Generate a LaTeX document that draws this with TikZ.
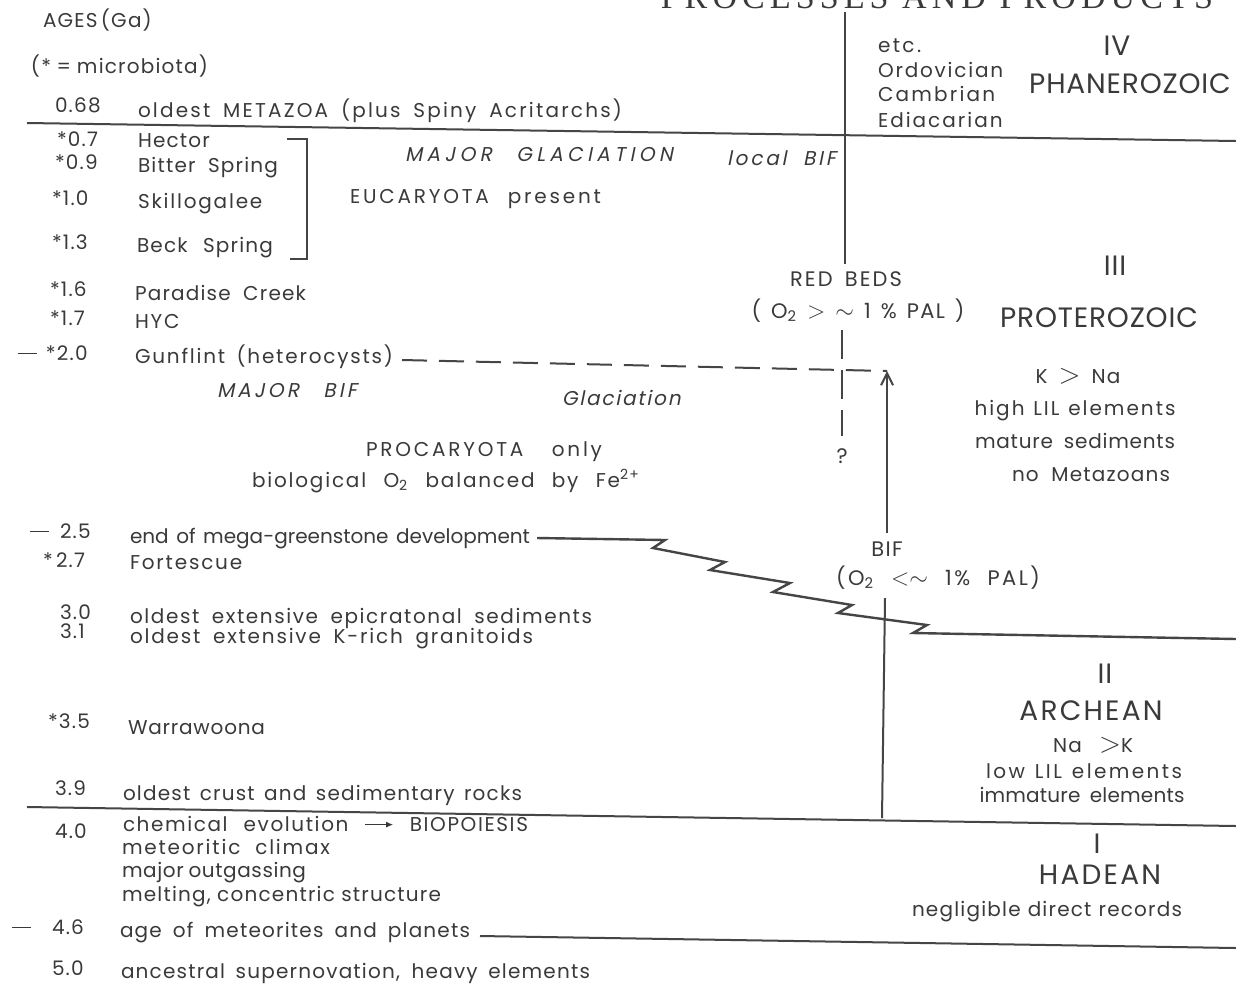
\documentclass[tikz,border=0pt]{standalone}
\usepackage{fontspec}
\setmainfont{Poppins}[LetterSpace=6]
\newfontfamily\slantfont{Poppins}[FakeSlant=0.2,LetterSpace=6]
\newfontfamily\headfont{Liberation Serif}[LetterSpace=15]
\usetikzlibrary{arrows.meta}
\definecolor{ink}{HTML}{3A3A3A}
\definecolor{linec}{HTML}{454545}
\newcommand\W[2]{\makebox[\dimexpr #1pt/2\relax][s]{#2}}
\newcommand\dashmark{\rule[0.3em]{9.5pt}{0.6pt}}
\begin{document}
\begin{tikzpicture}[x=0.5pt,y=-0.5pt,
  every node/.style={inner sep=0pt,outer sep=0pt,text=ink},
  txt/.style={anchor=west,text height=0.72em,text depth=0.2em,font=\fontsize{10}{12}\selectfont},
  txtc/.style={txt,anchor=center},
  lsp/.style={font=\fontsize{10}{12}\selectfont\addfontfeature{LetterSpace=#1}},
  itxt/.style={txt,font=\fontsize{10}{12}\selectfont\slantfont},
  ilsp/.style={font=\fontsize{10}{12}\selectfont\slantfont\addfontfeature{LetterSpace=#1}},
  midtxt/.style={anchor=center,text height=0.72em,text depth=0.2em,font=\fontsize{10.5}{12}\selectfont},
  midlsp/.style={font=\fontsize{10.5}{12}\selectfont\addfontfeature{LetterSpace=#1}},
  bigtxt/.style={anchor=center,text height=0.72em,text depth=0.2em,font=\fontsize{14}{16}\selectfont\addfontfeature{LetterSpace=3}},
  rule/.style={draw=linec,line width=1pt},
  dashrule/.style={rule,dash pattern=on 12.5pt off 6pt},
  stemrule/.style={rule,dash pattern=on 14.5pt off 5.5pt},
  ]
\fill[white] (0,0) rectangle (1236,992);
\useasboundingbox (0,0) rectangle (1236,992);

% header (cut off at the top, as in the source)
\node[anchor=base east,font=\fontsize{17}{19}\headfont] (head) at (1213,8) {PROCESSES AND PRODUCTS};

% left column: ages and events
\node[txt] (ages) at (43,22) {AGES\,(Ga)};
\node[txt] (micro) at (31,68) {\W{177}{(* = microbiota)}};
\node[txt] (n068) at (55,107) {0.68};
\node[txt,lsp=11] (metazoa) at (138,112) {\W{484}{oldest METAZOA (plus Spiny Acritarchs)}};
\node[txt] (n07) at (57,141) {*0.7};
\node[txt] (hector) at (138,142) {Hector};
\node[txt] (n09) at (55,164) {*0.9};
\node[txt] (bitter) at (138,167) {\W{140}{Bitter Spring}};
\node[txt] (n10) at (52,200) {*1.0};
\node[txt,lsp=9] (skill) at (138,203) {Skillogalee};
\node[txt] (n13) at (52,244) {*1.3};
\node[txt] (beck) at (137,247) {\W{136}{Beck Spring}};
\node[txt] (n16) at (50,291) {*1.6};
\node[txt] (paradise) at (135,295) {\W{171}{Paradise Creek}};
\node[txt] (n17) at (50,320) {*1.7};
\node[txt,lsp=9] (hyc) at (135,323) {HYC};
\node[txt] (dash20) at (18,355) {\dashmark};
\node[txt] (n20) at (46,355) {*2.0};
\node[txt,lsp=9] (gunflint) at (135,358) {\W{258}{Gunflint (heterocysts)}};
\node[txt] (dash25) at (30,533) {\dashmark};
\node[txt] (n25) at (60,533) {2.5};
\node[txt,lsp=0] (endmega) at (130,538) {\W{400}{end of mega-greenstone development}};
\node[txt] (n27) at (43,562) {*\,2.7};
\node[txt,lsp=9] (fortescue) at (130,564) {Fortescue};
\node[txt] (n30) at (60,614) {3.0};
\node[txt,lsp=8] (epicr) at (130,618) {\W{462}{oldest extensive epicratonal sediments}};
\node[txt] (n31) at (60,633) {3.1};
\node[txt,lsp=9] (krich) at (130,638) {\W{403}{oldest extensive K-rich granitoids}};
\node[txt] (n35) at (48,723) {*3.5};
\node[txt,lsp=4] (warra) at (128,729) {Warrawoona};
\node[txt] (n39) at (55,790) {3.9};
\node[txt] (crust) at (123,795) {\W{399}{oldest crust and sedimentary rocks}};
\node[txt] (n40) at (55,833) {4.0};
\node[txt,lsp=8] (chem) at (123,826) {\W{405}{chemical evolution \tikz[baseline=-0.6ex]\draw[draw=ink,line width=0.6pt,-{Latex[length=3.5pt,width=3pt]}] (0pt,0pt) -- (14pt,0pt); BIOPOIESIS}};
\node[txt,lsp=9] (meteo) at (122,849) {\W{208}{meteoritic climax}};
\node[txt,lsp=3] (outgas) at (122,872) {\W{184}{major outgassing}};
\node[txt] (melting) at (122,896) {\W{319}{melting, concentric structure}};
\node[txt] (dash46) at (12,929) {\dashmark};
\node[txt] (n46) at (52,929) {4.6};
\node[txt] (ageof) at (120,932) {\W{350}{age of meteorites and planets}};
\node[txt] (n50) at (52,970) {5.0};
\node[txt] (ancestral) at (121,973) {\W{469}{ancestral supernovation, heavy elements}};

% middle texts
\node[itxt,ilsp=22] (majglac) at (405,156) {\W{268}{MAJOR GLACIATION}};
\node[itxt,ilsp=14] (localbif) at (727,160) {\W{109}{local BIF}};
\node[txt,lsp=14] (eucar) at (350,198) {\W{251}{EUCARYOTA present}};
\node[itxt,ilsp=16] (majbif) at (217,392) {\W{140}{MAJOR BIF}};
\node[itxt,ilsp=9] (glac) at (562,400) {Glaciation};
\node[txtc,lsp=14] (procar) at (484,451) {\W{236}{PROCARYOTA only}};
\node[txtc,lsp=9] (biolog) at (446,482) {\W{388}{biological O\textsubscript{2} balanced by Fe\textsuperscript{2+}}};
\node[midtxt,midlsp=10] (redbeds) at (846,281) {\W{112}{RED BEDS}};
\node[midtxt] (redpal) at (858,313) {\W{213}{( O\textsubscript{2} {\large$>$} {\large$\sim$} 1 \% PAL )}};
\node[midtxt] (qmark) at (842,458) {?};
\node[midtxt] (bif) at (887,551) {BIF};
\node[midtxt,midlsp=12] (bifpal) at (938,580) {\W{204}{(O\textsubscript{2} {\large$<$}{\large$\sim$} 1\% PAL)}};

% right column
\node[txt,lsp=12] (etc) at (878,47) {etc.};
\node[txt,lsp=9] (ordo) at (878,72) {Ordovician};
\node[txt,lsp=11] (camb) at (878,96) {Cambrian};
\node[txt,lsp=10] (edia) at (878,122) {Ediacarian};
\node[bigtxt] (iv) at (1117,50) {IV};
\node[bigtxt] (phan) at (1130,88) {PHANEROZOIC};
\node[bigtxt] (iii) at (1115,270) {III};
\node[bigtxt] (prot) at (1099,322) {PROTEROZOIC};
\node[txtc] (kna) at (1078,378) {\W{85}{K {\Large$>$} Na}};
\node[txtc,lsp=10] (highlil) at (1075,410) {\W{201}{high LIL elements}};
\node[txtc,lsp=4] (mature) at (1075,443) {\W{200}{mature sediments}};
\node[txtc] (nometa) at (1091,476) {\W{158}{no Metazoans}};
\node[bigtxt] (ii) at (1105,678) {II};
\node[bigtxt,font=\fontsize{14}{16}\selectfont\addfontfeature{LetterSpace=8}] (arch) at (1091,715) {ARCHEAN};
\node[txtc] (nak) at (1093,747) {\W{80}{Na {\Large$>$}K}};
\node[txtc,lsp=12] (lowlil) at (1084,773) {\W{196}{low LIL elements}};
\node[txtc,lsp=1] (immature) at (1082,797) {\W{205}{immature elements}};
\node[bigtxt] (i) at (1097,848) {I};
\node[bigtxt,font=\fontsize{14}{16}\selectfont\addfontfeature{LetterSpace=8}] (hadean) at (1100,879) {HADEAN};
\node[txtc] (neglig) at (1047,911) {\W{270}{negligible direct records}};

% coordinates for the rules
\coordinate (l1a) at (27,123);   \coordinate (l1b) at (1236,141);
\coordinate (l2a) at (27,807);   \coordinate (l2b) at (1236,826);
\coordinate (l3a) at (480,936);  \coordinate (l3b) at (1236,948);
\coordinate (v1a) at (845,12);   \coordinate (v1b) at (845,264);
\coordinate (stema) at (842,330); \coordinate (stemb) at (842,436);
\coordinate (dasha) at (402,360); \coordinate (arrtip) at (887,371);
\coordinate (arrbase) at (887,533);
\coordinate (v2a) at (885,598);  \coordinate (v2b) at (882,818);
\coordinate (zstart) at (537,538); \coordinate (zend) at (1236,639);
\coordinate (bra) at (287,139); \coordinate (brb) at (307,139);
\coordinate (brc) at (307,259); \coordinate (brd) at (290,259);

% rules
\draw[rule] (l1a) -- (l1b);
\draw[rule] (l2a) -- (l2b);
\draw[rule] (l3a) -- (l3b);
\draw[rule] (v1a) -- (v1b);
\draw[rule] (v2a) -- (v2b);
\draw[rule] (bra) -- (brb) -- (brc) -- (brd);
\draw[dashrule] (dasha) -- (arrtip);
\draw[stemrule] (stema) -- (stemb);
\draw[rule,-{Straight Barb[length=6pt,width=6pt,line width=1pt]}] (arrbase) -- (arrtip);
\draw[rule,line width=1.2pt,line join=miter] (zstart) -- (665,540) -- (653,548) -- (725,562) -- (710,570)
  -- (790,583) -- (773,592) -- (852,605) -- (838,613) -- (927,625) -- (913,633) -- (zend);
\end{tikzpicture}
\end{document}
